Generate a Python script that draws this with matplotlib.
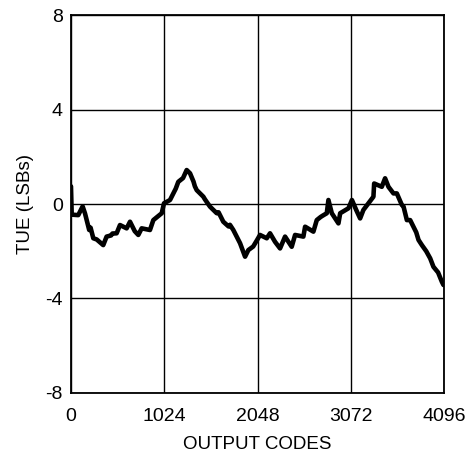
import matplotlib
matplotlib.use("Agg")
import matplotlib.pyplot as plt

# TUE vs output code
codes = [0, 8, 80, 128, 154, 200, 215, 245, 282, 354, 391, 440, 455, 501, 538,
         611, 648, 700, 739, 776, 867, 904, 996, 1021, 1087, 1142, 1150, 1178,
         1230, 1270, 1307, 1345, 1360, 1380, 1453, 1470, 1526, 1600, 1620, 1672,
         1730, 1745, 1782, 1856, 1911, 1947, 2000, 2039, 2075, 2149, 2185, 2240,
         2295, 2350, 2423, 2460, 2551, 2570, 2661, 2698, 2740, 2760, 2808, 2826,
         2863, 2936, 2955, 3046, 3084, 3131, 3174, 3210, 3320, 3328, 3412, 3448,
         3485, 3540, 3577, 3632, 3650, 3687, 3723, 3790, 3815, 3852, 3900, 3943,
         3979, 4030, 4071, 4089]
tue = [0.75, -0.45, -0.47, -0.1, -0.4, -1.1, -1.0, -1.45, -1.5, -1.74, -1.38,
       -1.33, -1.25, -1.24, -0.89, -1.03, -0.75, -1.15, -1.31, -1.03, -1.1,
       -0.68, -0.39, 0.03, 0.17, 0.59, 0.65, 0.94, 1.1, 1.44, 1.3, 0.95, 0.75,
       0.59, 0.31, 0.2, -0.11, -0.39, -0.35, -0.75, -0.95, -0.88, -1.1, -1.66,
       -2.23, -1.95, -1.8, -1.55, -1.31, -1.45, -1.24, -1.6, -1.88, -1.38,
       -1.81, -1.31, -1.38, -0.96, -1.17, -0.68, -0.55, -0.5, -0.39, 0.17,
       -0.39, -0.82, -0.39, -0.18, 0.17, -0.25, -0.61, -0.25, 0.31, 0.87, 0.73,
       1.09, 0.73, 0.45, 0.45, -0.04, -0.1, -0.68, -0.68, -1.2, -1.52, -1.74,
       -2.0, -2.3, -2.66, -2.9, -3.29, -3.43]

x_ticks = [0, 1024, 2048, 3072, 4096]
y_ticks = [-8, -4, 0, 4, 8]

plt.rcParams.update({
    "font.family": "Liberation Sans",
    "font.size": 14,
    "axes.unicode_minus": False,
})

fig = plt.figure(figsize=(4.67, 4.59), dpi=100)
ax = fig.add_axes([0.152, 0.144, 0.799, 0.823])

ax.plot(codes, tue, color="black", linewidth=3.3, solid_joinstyle="round",
        solid_capstyle="round")

ax.set_xlim(0, 4096)
ax.set_ylim(-8, 8)
ax.set_xticks(x_ticks)
ax.set_yticks(y_ticks)
ax.tick_params(length=0, labelsize=14)
ax.tick_params(axis="y", pad=6)
ax.tick_params(axis="x", pad=11)
ax.grid(True, color="black", linewidth=1.0)
ax.set_axisbelow(True)
for s in ax.spines.values():
    s.set_linewidth(1.3)

ax.set_xlabel("OUTPUT CODES", fontsize=13.5, labelpad=8)
ax.set_ylabel("TUE (LSBs)", fontsize=13.5, labelpad=8)

fig.savefig("out.png", dpi=100)
